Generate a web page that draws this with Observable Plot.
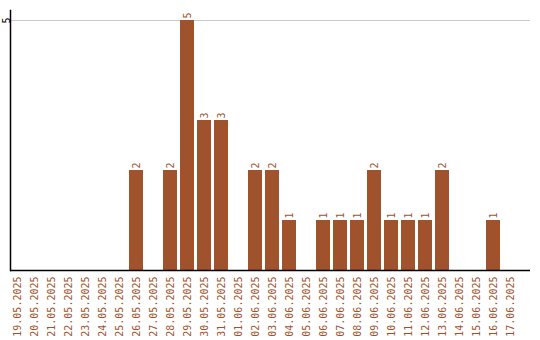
<!DOCTYPE html>
<html><head><meta charset="utf-8">
<script src="https://cdn.jsdelivr.net/npm/d3@7"></script>
<script src="https://cdn.jsdelivr.net/npm/@observablehq/plot@0.6"></script>
<style>body{margin:0;background:#fff}</style>
</head><body><div id="chart"></div>
<script>
const dates = ["19.05.2025","20.05.2025","21.05.2025","22.05.2025","23.05.2025","24.05.2025","25.05.2025","26.05.2025","27.05.2025","28.05.2025","29.05.2025","30.05.2025","31.05.2025","01.06.2025","02.06.2025","03.06.2025","04.06.2025","05.06.2025","06.06.2025","07.06.2025","08.06.2025","09.06.2025","10.06.2025","11.06.2025","12.06.2025","13.06.2025","14.06.2025","15.06.2025","16.06.2025","17.06.2025"];
const counts = [0,0,0,0,0,0,0,2,0,2,5,3,3,0,2,2,1,0,1,1,1,2,1,1,1,2,0,0,1,0];
const yTicks = [5];
const data = dates.map((d,i)=>({date:d, count:counts[i]}));
const color = "#a0522d";
const font = "DejaVu Sans Mono";
const chart = Plot.plot({
  width: 540, height: 340,
  marginTop: 10, marginLeft: 10, marginRight: 10, marginBottom: 70,
  style: {fontFamily: font, fontSize: "10px", background: "#fff"},
  x: {domain: dates, range: [10, 520], padding: 0, label: null},
  y: {domain: [0, 5.2], label: null},
  marks: [
    Plot.gridY(yTicks, {stroke: "#ccc", strokeOpacity: 1}),
    Plot.barY(data, {x: "date", y: "count", fill: color, insetLeft: 0, insetRight: 3}),
    Plot.text(data.filter(d=>d.count>0), {x: "date", y: "count", text: d=>String(d.count), rotate: -90, textAnchor: "start", dx: -1.5, dy: -2, fill: color, fontFamily: font, fontSize: 10}),
    Plot.axisX({tickSize: 0, tickPadding: 6, tickRotate: -90, fill: color, fontFamily: font, fontSize: 10, dx: -1.5, label: null}),
    Plot.axisY(yTicks, {tickSize: 0, tickPadding: 2, tickRotate: -90, tickFormat: d3.format("d"), textAnchor: "middle", dx: 1, fill: "#000", fontFamily: font, fontSize: 10, label: null}),
    Plot.frame({anchor: "left", stroke: "#000", strokeWidth: 1.5}),
    Plot.ruleY([0], {stroke: "#000", strokeWidth: 1.5})
  ]
});
document.getElementById("chart").appendChild(chart);
</script></body></html>
